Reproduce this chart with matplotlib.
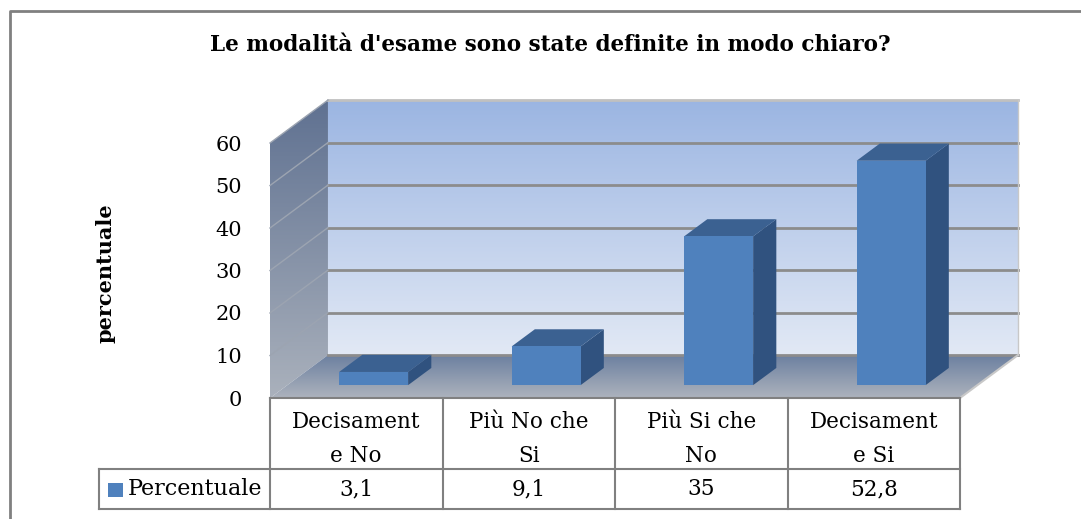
import numpy as np
import matplotlib.pyplot as plt
from matplotlib.colors import to_rgb
from matplotlib.patches import Polygon, Rectangle
from matplotlib.transforms import blended_transform_factory
from matplotlib.lines import Line2D

categories = ["Decisament\ne No", "Più No che\nSi", "Più Si che\nNo", "Decisament\ne Si"]
values = [3.1, 9.1, 35, 52.8]
series_name = "Percentuale"
title = "Le modalità d'esame sono state definite in modo chiaro?"
ylabel = "percentuale"

serif = "DejaVu Serif"
front_col = "#4f81bd"
side_col = "#30527f"
top_col = "#3b6191"
grid_col = "#8c8c8c"
table_col = "#808080"

# depth of the fake 3d box, in data units (category, value)
dx, dy = 0.336, 10.1
bar_w = 0.4
bar_off = 0.3      # where the bars sit in the depth
bar_depth = 0.4

n = len(values)
x0, x1 = -0.5, n - 0.5
ymax = 60
px_x = 172.5           # pixels per category
px_y = 255 / ymax      # pixels per value unit

fig = plt.figure(figsize=(10.81, 5.19), dpi=100)
w_px = (x1 + dx - x0) * px_x
h_px = (ymax + dy) * px_y
ax = fig.add_axes([270 / 1081, 1 - 398 / 519, w_px / 1081, h_px / 519])


def gradient(poly, extent, c_top, c_bot, z):
    patch = Polygon(poly, closed=True, fc="none", ec="none", zorder=z)
    ax.add_patch(patch)
    a = np.array(to_rgb(c_top))
    b = np.array(to_rgb(c_bot))
    t = np.linspace(0, 1, 256)[:, None]
    img = (a * (1 - t) + b * t)[:, None, :]
    im = ax.imshow(img, extent=extent, aspect="auto", origin="upper",
                   zorder=z, interpolation="bilinear")
    im.set_clip_path(patch)


# back wall
back = [(x0 + dx, dy), (x1 + dx, dy), (x1 + dx, ymax + dy), (x0 + dx, ymax + dy)]
gradient(back, (x0 + dx, x1 + dx, dy, ymax + dy), "#9bb5e2", "#e2e9f5", 0)
# side wall
side = [(x0, 0), (x0 + dx, dy), (x0 + dx, ymax + dy), (x0, ymax)]
gradient(side, (x0, x0 + dx, 0, ymax + dy), "#5f7191", "#aab1bc", 0)
# floor
floor = [(x0, 0), (x1, 0), (x1 + dx, dy), (x0 + dx, dy)]
gradient(floor, (x0, x1 + dx, 0, dy), "#6c80a0", "#adb3bd", 0)

for v in range(0, ymax + 1, 10):
    c = "#c0c0c0" if v == ymax else grid_col
    ax.plot([x0 + dx, x1 + dx], [v + dy, v + dy], color=c, lw=2, zorder=1, clip_on=False)
    if v > 0:
        ax.plot([x0, x0 + dx], [v, v + dy], color="#9ca4b1", lw=1, zorder=1, clip_on=False)
ax.plot([x1, x1 + dx], [0, dy], color="#c8c8c8", lw=1.5, zorder=1, clip_on=False)
ax.plot([x1 + dx, x1 + dx], [dy, ymax + dy], color="#c8c8c8", lw=1, zorder=1, clip_on=False)

# bars: front face from ax.bar, then side and top faces from the same rects
xs = np.arange(n) + bar_off * dx
bars = ax.bar(xs, values, width=bar_w, bottom=bar_off * dy, color=front_col, zorder=4)
bdx, bdy = bar_depth * dx, bar_depth * dy
for r in bars:
    l, b = r.get_x(), r.get_y()
    w, h = r.get_width(), r.get_height()
    ax.add_patch(Polygon([(l + w, b), (l + w + bdx, b + bdy), (l + w + bdx, b + h + bdy),
                          (l + w, b + h)], fc=side_col, ec="none", zorder=3))
    ax.add_patch(Polygon([(l, b + h), (l + w, b + h), (l + w + bdx, b + h + bdy),
                          (l + bdx, b + h + bdy)], fc=top_col, ec="none", zorder=3))

ax.set_xlim(x0, x1 + dx)
ax.set_ylim(0, ymax + dy)
for s in ax.spines.values():
    s.set_visible(False)
ax.set_xticks([])
ax.set_yticks(range(0, ymax + 1, 10))
ax.tick_params(axis="y", length=0, pad=20, labelsize=15)
for t in ax.get_yticklabels():
    t.set_fontfamily(serif)

# data table under the plot: x in data units, y in pixels below the floor edge
to_ax = 1 / h_px
tr = blended_transform_factory(ax.transData, ax.transAxes)
y_hdr, y_val = -71 * to_ax, -111 * to_ax
leg_x = x0 - 0.99
kw = dict(color=table_col, lw=1.5, transform=tr, clip_on=False, zorder=5)
ax.add_line(Line2D([x0, x1], [0, 0], **kw))
ax.add_line(Line2D([leg_x, x1], [y_hdr, y_hdr], **kw))
ax.add_line(Line2D([leg_x, x1], [y_val, y_val], **kw))
ax.add_line(Line2D([leg_x, leg_x], [y_hdr, y_val], **kw))
for i in range(n + 1):
    ax.add_line(Line2D([x0 + i, x0 + i], [0, y_val], **kw))
for i, (cat, v) in enumerate(zip(categories, values)):
    ax.text(i, -41 * to_ax, cat, transform=tr, ha="center", va="center",
            fontsize=15.5, family=serif, linespacing=1.65)
    ax.text(i, (y_hdr + y_val) / 2, f"{v:g}".replace(".", ","), transform=tr,
            ha="center", va="center", fontsize=15.5, family=serif)
ax.add_patch(Rectangle((x0 - 0.939, -99 * to_ax), 0.087, 14 * to_ax, transform=tr,
                       fc=front_col, ec="none", clip_on=False))
ax.text(x0 - 0.823, (y_hdr + y_val) / 2, series_name, transform=tr, ha="left",
        va="center", fontsize=16, family=serif)

fig.text(105 / 1081, 1 - 273 / 519, ylabel, rotation=90, ha="center", va="center",
         fontsize=15, fontweight="bold", family=serif)
fig.text(550 / 1081, 1 - 45 / 519, title, ha="center", va="center",
         fontsize=15.5, fontweight="bold", family=serif)

# outer chart frame
fig.add_artist(Line2D([10 / 1081, 10 / 1081, 1], [0, 1 - 11 / 519, 1 - 11 / 519],
                      color="#808080", lw=2, transform=fig.transFigure))

fig.savefig("out.png", dpi=100)
